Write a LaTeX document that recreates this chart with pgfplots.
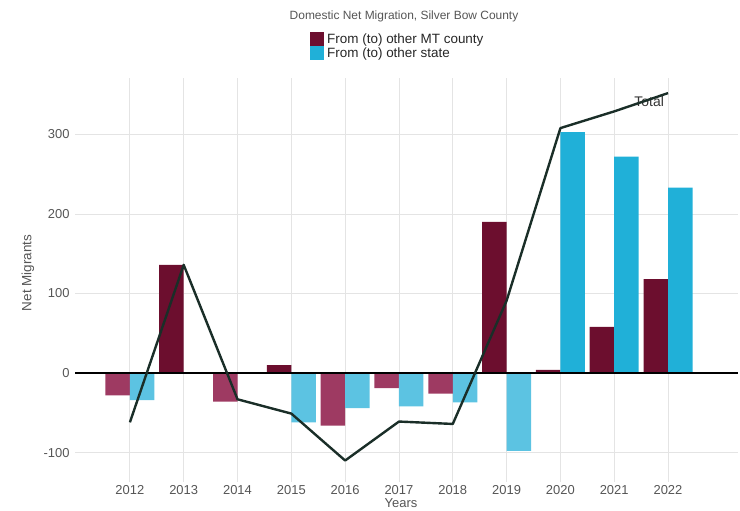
\documentclass[border=0pt]{standalone}
\usepackage{pgfplots}
\pgfplotsset{compat=1.18}
\usepackage{fontspec}
\setmainfont{Liberation Sans}
\definecolor{mtpos}{RGB}{108,14,46}
\definecolor{mtneg}{RGB}{158,58,98}
\definecolor{stpos}{RGB}{32,176,216}
\definecolor{stneg}{RGB}{92,195,226}
\definecolor{totline}{RGB}{26,46,40}
\definecolor{ticktxt}{RGB}{85,85,85}
\definecolor{gridc}{RGB}{228,228,228}
\begin{document}
\begin{tikzpicture}
\useasboundingbox (0bp,0bp) rectangle (740bp,511bp);
\begin{axis}[
  at={(75bp,29bp)}, anchor=south west,
  scale only axis, width=663bp, height=404bp,
  xmin=2010.98, xmax=2023.3,
  ymin=-137, ymax=371,
  xtick={2012,...,2022},
  ytick={-100,0,100,200,300},
  xticklabel style={/pgf/number format/1000 sep={}},
  /pgf/number format/assume math mode=true,
  tick label style={font=\fontsize{13}{15}\selectfont, text=ticktxt},
  yticklabel style={xshift=-2bp},
  xticklabel style={yshift=0.5bp},
  grid=major,
  major grid style={draw=gridc, line width=0.8bp},
  axis line style={draw=none},
  major tick style={draw=none},
  bar width=24.5bp,
  legend style={at={(0.35,1.119)}, anchor=north west, draw=none, fill=none,
    font=\fontsize{13.5}{15}\selectfont, text=black!85,
    nodes={inner sep=1bp}, row sep=0bp},
  legend cell align=left,
  legend image code/.code={\fill[#1] (0bp,-7bp) rectangle (14bp,7bp);},
]
% MT county, positive
\addplot[ybar, bar shift=-12.25bp, fill=mtpos, draw=none] coordinates {
  (2013,136) (2015,10) (2019,190) (2020,4) (2021,58) (2022,118)};
\addlegendentry{\hspace{2bp}From (to) other MT county}
% other state, positive
\addplot[ybar, bar shift=12.25bp, fill=stpos, draw=none] coordinates {
  (2020,303) (2021,272) (2022,233)};
\addlegendentry{\hspace{2bp}From (to) other state}
% MT county, negative
\addplot[ybar, bar shift=-12.25bp, fill=mtneg, draw=none, forget plot] coordinates {
  (2012,-28) (2014,-36) (2016,-66) (2017,-19) (2018,-26)};
% other state, negative
\addplot[ybar, bar shift=12.25bp, fill=stneg, draw=none, forget plot] coordinates {
  (2012,-34) (2015,-62) (2016,-44) (2017,-42) (2018,-37) (2019,-98)};
% zero line
\addplot[black, line width=1.8bp, forget plot] coordinates {(2010.98,0) (2023.3,0)};
\node[text=black!80, font=\fontsize{14}{16}\selectfont] at (axis cs:2021.65,341) {Total};
% total
\addplot[totline, line width=2.4bp, line join=round, forget plot] coordinates {
  (2012,-62) (2013,136) (2014,-33) (2015,-51) (2016,-110) (2017,-61)
  (2018,-64) (2019,91) (2020,308) (2021,329) (2022,352)};
\end{axis}
\node[text=ticktxt, font=\fontsize{12}{14}\selectfont] at (404bp,495bp) {Domestic Net Migration, Silver Bow County};
\node[text=ticktxt, rotate=90, font=\fontsize{13.5}{15}\selectfont] at (28bp,238bp) {Net Migrants};
\node[text=ticktxt, font=\fontsize{13}{15}\selectfont, inner sep=0pt] at (401bp,7.5bp) {Years};
\end{tikzpicture}
\end{document}
